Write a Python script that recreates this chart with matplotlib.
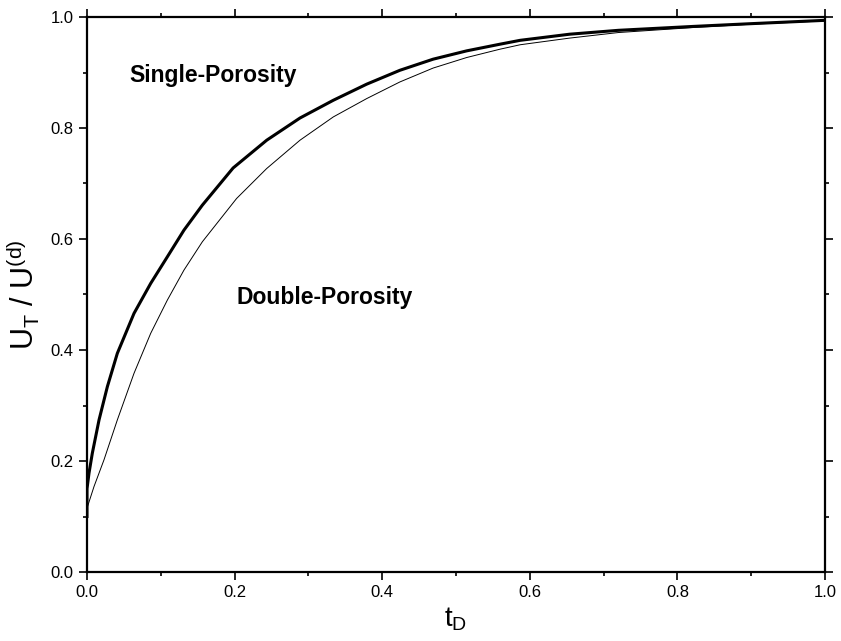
import matplotlib
matplotlib.use("Agg")
import matplotlib.pyplot as plt
from matplotlib.ticker import MultipleLocator, FormatStrFormatter

plt.rcParams['font.family'] = ['Liberation Sans', 'DejaVu Sans']
plt.rcParams['mathtext.fontset'] = 'custom'
plt.rcParams['mathtext.rm'] = 'Liberation Sans'
plt.rcParams['mathtext.it'] = 'Liberation Sans'
plt.rcParams['mathtext.bf'] = 'Liberation Sans:bold'

# Single-porosity (thick)
t_single = [0.0, 0.0, 0.0027, 0.0072, 0.0163, 0.0276, 0.0411, 0.0637, 0.0863,
            0.1089, 0.1314, 0.1563, 0.198, 0.2435, 0.2886, 0.3338, 0.379, 0.424,
            0.469, 0.5145, 0.5596, 0.587, 0.654, 0.72, 0.821, 0.9, 1.0]
u_single = [0.10, 0.15, 0.178, 0.214, 0.274, 0.334, 0.394, 0.466, 0.520,
            0.568, 0.616, 0.661, 0.728, 0.778, 0.818, 0.850, 0.879, 0.904,
            0.924, 0.939, 0.951, 0.958, 0.969, 0.976, 0.983, 0.988, 0.994]

# Double-porosity (thin)
t_double = [0.0, 0.0095, 0.0230, 0.0411, 0.0637, 0.0863, 0.1089, 0.1314, 0.1563,
            0.2027, 0.2435, 0.2886, 0.3338, 0.379, 0.424, 0.469, 0.5145, 0.5596,
            0.587, 0.654, 0.72, 0.821, 0.9, 1.0]
u_double = [0.115, 0.154, 0.202, 0.274, 0.358, 0.430, 0.490, 0.544, 0.595,
            0.673, 0.727, 0.778, 0.820, 0.853, 0.883, 0.908, 0.927, 0.942,
            0.950, 0.962, 0.972, 0.981, 0.987, 0.993]

fig = plt.figure(figsize=(8.41, 6.41), dpi=100)
ax = fig.add_axes([87/841, 1-572/641, (825-87)/841, (572-17)/641])

ax.plot(t_single, u_single, color='black', lw=2.2, solid_joinstyle='round')
ax.plot(t_double, u_double, color='black', lw=0.7, solid_joinstyle='round')

ax.set_xlim(0, 1)
ax.set_ylim(0, 1)
ax.xaxis.set_major_locator(MultipleLocator(0.2))
ax.xaxis.set_minor_locator(MultipleLocator(0.1))
ax.yaxis.set_major_locator(MultipleLocator(0.2))
ax.yaxis.set_minor_locator(MultipleLocator(0.1))
ax.xaxis.set_major_formatter(FormatStrFormatter('%.1f'))
ax.yaxis.set_major_formatter(FormatStrFormatter('%.1f'))
ax.tick_params(which='both', direction='out', top=True, right=True, width=1.2,
               labelsize=12)
ax.tick_params(which='major', length=6)
ax.tick_params(which='minor', length=3)
for s in ax.spines.values():
    s.set_linewidth(1.6)

ax.set_xlabel(r'$\mathrm{t_D}$', fontsize=20, labelpad=4)
ax.set_ylabel(r'$\mathrm{U_T\ /\ U^{(d)}}$', fontsize=22, labelpad=6)

ax.text(0.058, 0.895, 'Single-Porosity', fontsize=16.5, fontweight='bold',
        ha='left', va='center')
ax.text(0.203, 0.495, 'Double-Porosity', fontsize=16.5, fontweight='bold',
        ha='left', va='center')

fig.savefig('out.png', dpi=100)
